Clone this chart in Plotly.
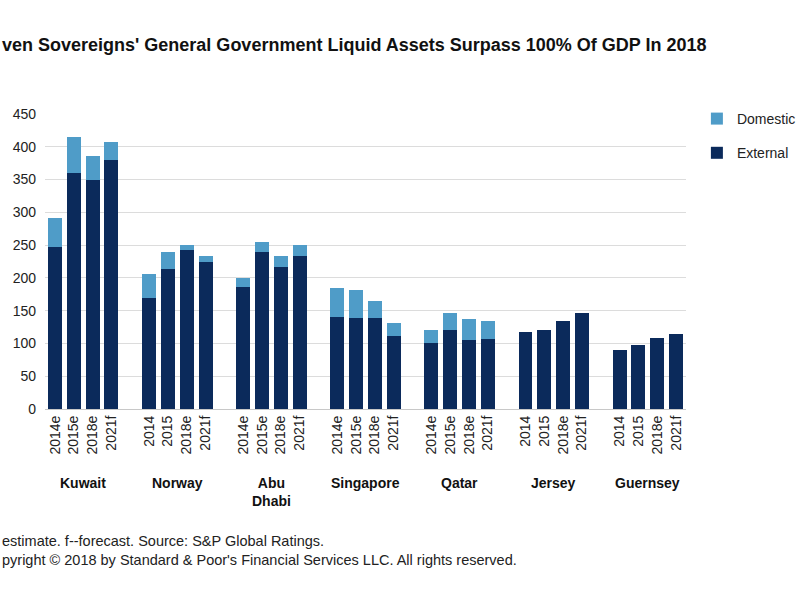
import plotly.graph_objects as go

countries = ["Kuwait", "Norway", "Abu<br>Dhabi", "Singapore", "Qatar", "Jersey", "Guernsey"]
years = [
    ["2014e", "2015e", "2018e", "2021f"],
    ["2014", "2015", "2018e", "2021f"],
    ["2014e", "2015e", "2018e", "2021f"],
    ["2014e", "2015e", "2018e", "2021f"],
    ["2014e", "2015e", "2018e", "2021f"],
    ["2014", "2015", "2018e", "2021f"],
    ["2014", "2015", "2018e", "2021f"],
]
external = [
    [247, 360, 349, 380],
    [170, 214, 242, 224],
    [186, 240, 217, 234],
    [141, 139, 139, 111],
    [100, 120, 106, 107],
    [118, 120, 135, 146],
    [90, 97, 109, 115],
]
total = [
    [291, 415, 386, 407],
    [206, 239, 250, 233],
    [200, 254, 233, 250],
    [185, 182, 164, 131],
    [121, 146, 137, 134],
    [118, 120, 135, 146],
    [90, 97, 109, 115],
]
series_names = ["External", "Domestic"]

title_text = "ven Sovereigns' General Government Liquid Assets Surpass 100% Of GDP In 2018"
footnote = ("estimate. f--forecast. Source: S&amp;P Global Ratings.<br>"
            "pyright © 2018 by Standard &amp; Poor's Financial Services LLC. All rights reserved.")

SLOT = 5  # 4 bars + one empty slot per country
xs, labels, ext_vals, dom_vals = [], [], [], []
for g, (yl, ev, tv) in enumerate(zip(years, external, total)):
    for i, (y, e, t) in enumerate(zip(yl, ev, tv)):
        xs.append(g * SLOT + i)
        labels.append(y)
        ext_vals.append(e)
        dom_vals.append(t - e)

FONT = "Liberation Sans, Arial, sans-serif"
DARK = "#0b2a5b"
LIGHT = "#4f9cc8"

fig = go.Figure()
fig.add_trace(go.Bar(x=xs, y=ext_vals, name=series_names[0], marker_color=DARK,
                     marker_line_width=0, legendgroup="ext", legendrank=2))
fig.add_trace(go.Bar(x=xs, y=dom_vals, name=series_names[1], marker_color=LIGHT,
                     marker_line_width=0, legendgroup="dom", legendrank=1))

for g, c in enumerate(countries):
    fig.add_annotation(x=g * SLOT + 1.5, xref="x", y=-0.217, yref="paper",
                       text="<b>" + c + "</b>", showarrow=False, yanchor="top",
                       xanchor="center", font=dict(family=FONT, size=14, color="#111"))

fig.add_annotation(x=-0.0702, xref="paper", y=1.234, yref="paper", text="<b>" + title_text + "</b>",
                   showarrow=False, xanchor="left", yanchor="middle",
                   font=dict(family=FONT, size=18, color="#111"))
fig.add_annotation(x=-0.0702, xref="paper", y=-0.415, yref="paper", text=footnote,
                   showarrow=False, xanchor="left", yanchor="top", align="left",
                   font=dict(family=FONT, size=14.5, color="#222"))

fig.update_layout(
    width=800, height=600,
    margin=dict(l=45, r=114, t=114, b=191, autoexpand=False),
    barmode="stack", bargap=0.26,
    plot_bgcolor="white", paper_bgcolor="white",
    font=dict(family=FONT, size=14, color="#222"),
    legend=dict(x=1.017, y=1.0373, xanchor="left", yanchor="top",
                traceorder="grouped", tracegroupgap=13,
                itemwidth=30, font=dict(size=14, color="#222")),
    xaxis=dict(range=[-0.53, 33.53], tickmode="array", tickvals=xs, ticktext=labels,
               tickangle=-90, showgrid=False, zeroline=False, showline=True,
               linecolor="#c8c8c8", ticks="", tickfont=dict(size=14)),
    yaxis=dict(range=[0, 450], dtick=50, showgrid=True, gridcolor="#dcdcdc",
               zeroline=False, showline=False, ticks="", tickfont=dict(size=14),
               ticklabelstandoff=8),
)

fig.write_html("out.html")
